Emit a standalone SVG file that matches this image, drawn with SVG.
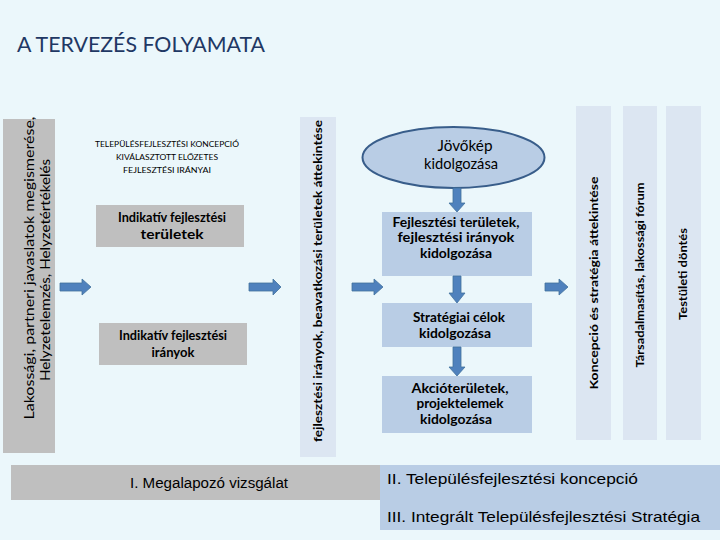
<svg xmlns="http://www.w3.org/2000/svg" width="720" height="540" viewBox="0 0 720 540">
<defs>
<style>
.gray{fill:#bfbfbf}
.pale{fill:#dce6f2}
.blue{fill:#b9cde5}
.arr{fill:#4f81bd;stroke:#41719c;stroke-width:0.8}
.t{font-family:Lato,"Open Sans",sans-serif;fill:#000}
.tb{font-family:Lato,"Open Sans",sans-serif;font-weight:bold;fill:#000}
.a{font-family:"Liberation Sans",Arial,sans-serif;fill:#000}
</style>
</defs>
<rect width="720" height="540" fill="#ebf7fb"/>
<text x="17" y="52" font-family="Lato, 'Open Sans', sans-serif" font-size="21" fill="#1f3864" textLength="248" lengthAdjust="spacingAndGlyphs">A TERVEZÉS FOLYAMATA</text>

<g id="left-bar">
<rect x="3" y="119" width="52" height="334" class="gray"/>
<text class="t" font-size="14" text-anchor="middle" transform="translate(34,268) rotate(-90)" textLength="303" lengthAdjust="spacingAndGlyphs">Lakossági, partneri javaslatok megismerése,</text>
<text class="t" font-size="14" text-anchor="middle" transform="translate(50,270) rotate(-90)" textLength="222" lengthAdjust="spacingAndGlyphs">Helyzetelemzés, Helyzetértékelés</text>
</g>

<g id="koncepcio-label">
<text class="t" font-size="8" text-anchor="middle" x="167" y="147" textLength="144" lengthAdjust="spacingAndGlyphs">TELEPÜLÉSFEJLESZTÉSI KONCEPCIÓ</text>
<text class="t" font-size="8" text-anchor="middle" x="167" y="160" textLength="102" lengthAdjust="spacingAndGlyphs">KIVÁLASZTOTT ELŐZETES</text>
<text class="t" font-size="8" text-anchor="middle" x="167" y="173" textLength="88" lengthAdjust="spacingAndGlyphs">FEJLESZTÉSI IRÁNYAI</text>
</g>

<g id="indikativ-teruletek">
<rect x="96" y="205" width="148" height="42" class="gray"/>
<text class="tb" font-size="13" text-anchor="middle" x="172" y="222" textLength="108" lengthAdjust="spacingAndGlyphs">Indikatív fejlesztési</text>
<text class="tb" font-size="13" text-anchor="middle" x="172" y="239" textLength="63" lengthAdjust="spacingAndGlyphs">területek</text>
</g>

<g id="indikativ-iranyok">
<rect x="99" y="323" width="148" height="42" class="gray"/>
<text class="tb" font-size="13" text-anchor="middle" x="173" y="340" textLength="108" lengthAdjust="spacingAndGlyphs">Indikatív fejlesztési</text>
<text class="tb" font-size="13" text-anchor="middle" x="173" y="357">irányok</text>
</g>

<g id="attekintes-bar">
<rect x="300" y="117" width="36" height="340" class="pale"/>
<text class="tb" font-size="12" text-anchor="middle" transform="translate(322,281) rotate(-90)" textLength="322" lengthAdjust="spacingAndGlyphs">fejlesztési irányok, beavatkozási területek áttekintése</text>
</g>

<g id="jovokep">
<ellipse cx="453.5" cy="157.5" rx="91" ry="30.5" fill="#b9cde5" stroke="#385d8a" stroke-width="2"/>
<text class="t" font-size="15" text-anchor="middle" x="465" y="151" textLength="55" lengthAdjust="spacingAndGlyphs">Jövőkép</text>
<text class="t" font-size="15" text-anchor="middle" x="461" y="169" textLength="74" lengthAdjust="spacingAndGlyphs">kidolgozása</text>
</g>

<g id="fejlesztesi-teruletek">
<rect x="382" y="212" width="150" height="64" class="blue"/>
<text class="tb" font-size="12.5" text-anchor="middle" x="456" y="227" textLength="127" lengthAdjust="spacingAndGlyphs">Fejlesztési területek,</text>
<text class="tb" font-size="12.5" text-anchor="middle" x="456" y="242" textLength="117" lengthAdjust="spacingAndGlyphs">fejlesztési irányok</text>
<text class="tb" font-size="12.5" text-anchor="middle" x="456" y="258" textLength="72" lengthAdjust="spacingAndGlyphs">kidolgozása</text>
</g>

<g id="strategiai-celok">
<rect x="382" y="303" width="150" height="44" class="blue"/>
<text class="tb" font-size="12.5" text-anchor="middle" x="459" y="322" textLength="92" lengthAdjust="spacingAndGlyphs">Stratégiai célok</text>
<text class="tb" font-size="12.5" text-anchor="middle" x="455" y="338" textLength="72" lengthAdjust="spacingAndGlyphs">kidolgozása</text>
</g>

<g id="akcioteruletek">
<rect x="382" y="376" width="150" height="57" class="blue"/>
<text class="tb" font-size="12.5" text-anchor="middle" x="460" y="393" textLength="97" lengthAdjust="spacingAndGlyphs">Akcióterületek,</text>
<text class="tb" font-size="12.5" text-anchor="middle" x="460" y="408" textLength="87" lengthAdjust="spacingAndGlyphs">projektelemek</text>
<text class="tb" font-size="12.5" text-anchor="middle" x="456" y="424" textLength="72" lengthAdjust="spacingAndGlyphs">kidolgozása</text>
</g>

<g id="koncepcio-strategia">
<rect x="576" y="106" width="35" height="334" class="pale"/>
<text class="tb" font-size="12" text-anchor="middle" transform="translate(598,283) rotate(-90)" textLength="213" lengthAdjust="spacingAndGlyphs">Koncepció és stratégia áttekintése</text>
</g>
<g id="tarsadalmasitas">
<rect x="623" y="106" width="34" height="334" class="pale"/>
<text class="tb" font-size="12" text-anchor="middle" transform="translate(644,275) rotate(-90)" textLength="185" lengthAdjust="spacingAndGlyphs">Társadalmasítás, lakossági fórum</text>
</g>
<g id="testuleti">
<rect x="666" y="106" width="35" height="334" class="pale"/>
<text class="tb" font-size="12" text-anchor="middle" transform="translate(687,274) rotate(-90)" textLength="92" lengthAdjust="spacingAndGlyphs">Testületi döntés</text>
</g>

<g id="megalapozo">
<rect x="11" y="465" width="369" height="35" class="gray"/>
<text class="a" font-size="14" text-anchor="middle" x="209" y="488" textLength="158" lengthAdjust="spacingAndGlyphs">I. Megalapozó vizsgálat</text>
</g>

<g id="koncepcio-strategia-bottom">
<rect x="380" y="465" width="340" height="65" class="blue"/>
<text class="a" font-size="14.5" x="387" y="484" textLength="251" lengthAdjust="spacingAndGlyphs">II. Településfejlesztési koncepció</text>
<text class="a" font-size="14.5" x="387" y="522" textLength="313" lengthAdjust="spacingAndGlyphs">III. Integrált Településfejlesztési Stratégia</text>
</g>

<g id="connectors">
<polygon class="arr" points="60,283 82,283 82,279 91,287 82,295 82,291 60,291"/>
<polygon class="arr" points="249,283 273,283 273,279 281,287 273,295 273,291 249,291"/>
<polygon class="arr" points="352,283 374,283 374,279 383,287 374,295 374,291 352,291"/>
<polygon class="arr" points="545,283 559,283 559,279 568,287 559,295 559,291 545,291"/>
<polygon class="arr" points="453,188 461,188 461,203 465,203 457,212 449,203 453,203"/>
<polygon class="arr" points="453,276 461,276 461,293 465,293 457,303 449,293 453,293"/>
<polygon class="arr" points="453,347 461,347 461,367 465,367 457,376 449,367 453,367"/>
</g>
</svg>
